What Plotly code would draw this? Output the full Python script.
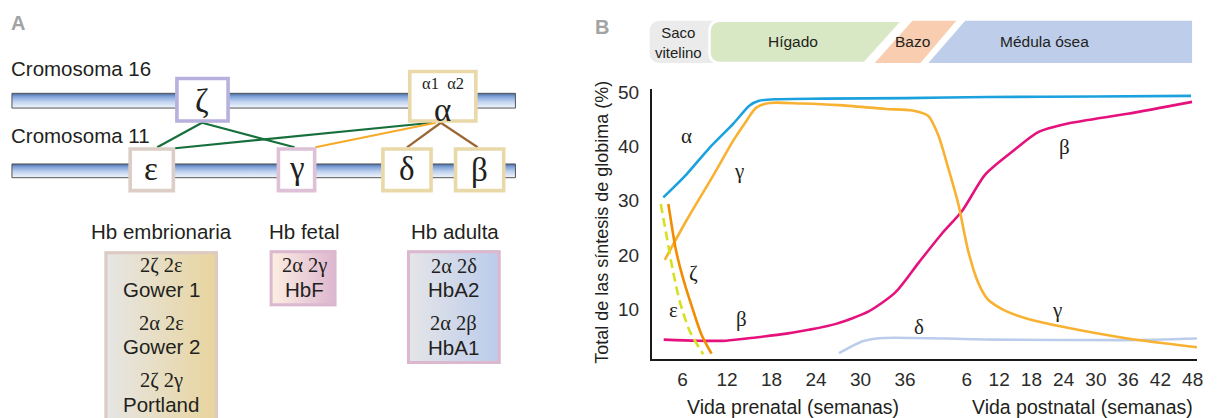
import plotly.graph_objects as go

W, H = 1217, 418

# ---------------- DATA (panel B) ----------------
# Age in weeks since conception: prenatal week w -> w ; postnatal week p -> 40 + p
alpha_t = [3.4, 6.5, 9.6, 12.85, 15.0, 16.3, 18.6, 25, 36, 50, 70, 87.7]
alpha_y = [30.6, 34.8, 39.7, 44.2, 47.5, 48.4, 48.7, 48.8, 48.9, 49.1, 49.2, 49.3]

gamma_t = [3.6, 6.5, 10.2, 12.85, 14.6, 15.9, 17.7, 22, 27.1, 33.4, 37.0, 39.15,
           40.7, 42.5, 44.4, 46.2, 48.1, 49.9, 51.2, 53.6, 57.4, 63.6, 75.9, 88.8]
gamma_y = [19.1, 26.3, 34.8, 41.1, 44.7, 47.1, 48.0, 47.9, 47.6, 46.9, 46.6, 45.6,
           42.0, 36.1, 29.4, 20.9, 14.9, 11.8, 10.8, 9.5, 8.2, 6.8, 4.6, 3.0]

beta_t = [3.45, 7.9, 11.9, 15.9, 20.0, 23.0, 26.7, 31.1, 34.7, 37.8, 41.4, 45.1,
          49.4, 54.4, 59.2, 64.8, 75.9, 87.9]
beta_y = [4.4, 4.2, 4.2, 4.8, 5.5, 6.2, 7.3, 9.6, 13.1, 18.5, 24.0, 28.1,
          34.8, 39.0, 42.6, 44.2, 46.0, 48.2]

delta_t = [27.1, 30.3, 33.0, 51.2, 75.9, 88.8]
delta_y = [1.9, 4.1, 4.7, 4.4, 4.3, 4.6]

zeta_t = [4.08, 5.1, 6.1, 7.34, 8.55, 9.9]
zeta_y = [29.4, 20.9, 15.5, 10.1, 5.3, 1.8]

eps_t = [3.05, 3.85, 4.66, 5.64, 6.98, 8.78]
eps_y = [29.4, 23.4, 17.3, 11.3, 5.9, 1.7]

curve_labels = ["α", "γ", "ζ", "ε", "β", "δ", "γ", "β", "α"]
label_t = [6.54, 13.65, 7.48, 4.79, 13.92, 37.87, 62.7, 64.2, 62.35]
label_y = [42.0, 35.4, 16.7, 9.9, 8.2, 6.8, 9.9, 39.9, 52.0]

prenatal_ticks = [6, 12, 18, 24, 30, 36]
postnatal_ticks = [6, 12, 18, 24, 30, 36, 42, 48]
y_ticks = [10, 20, 30, 40, 50]

organ_labels = ["Saco<br>vitelino", "Hígado", "Bazo", "Médula ósea"]

# ---------------- TEXT (panel A) ----------------
chrom_labels = ["Cromosoma 16", "Cromosoma 11"]
gene_labels = ["ζ", "α", "ε", "γ", "δ", "β"]
hb_groups = ["Hb embrionaria", "Hb fetal", "Hb adulta"]
embryonic = [("2ζ 2ε", "Gower 1"), ("2α 2ε", "Gower 2"), ("2ζ 2γ", "Portland")]
fetal = [("2α 2γ", "HbF")]
adult = [("2α 2δ", "HbA2"), ("2α 2β", "HbA1")]

# ---------------- STYLE ----------------
SANS = "Liberation Sans, Arial, sans-serif"
SERIF = "Liberation Serif, Times New Roman, serif"
TXT = "#231f20"
R = 0.725  # postnatal compression of the time axis


def X(t):
    return t if t <= 40 else 40 + (t - 40) * R


fig = go.Figure()


def curve(t, y, color, dash="solid", width=2.6):
    fig.add_trace(go.Scatter(
        x=[X(v) for v in t], y=y, mode="lines", xaxis="x", yaxis="y",
        line=dict(color=color, width=width, dash=dash, shape="spline", smoothing=0.7),
        hoverinfo="skip", showlegend=False))


curve(delta_t, delta_y, "#bccdec")
curve(beta_t, beta_y, "#e5127d")
curve(gamma_t, gamma_y, "#f9b131")
curve(alpha_t, alpha_y, "#1ba1dd")
curve(eps_t, eps_y, "#d6e01f", dash="9px,5px")
curve(zeta_t, zeta_y, "#f28c00")

annotations = []
for s, t, y in zip(curve_labels, label_t, label_y):
    annotations.append(dict(x=X(t), y=y, xref="x", yref="y", text=s, showarrow=False,
                            font=dict(family=SERIF, size=21, color=TXT)))

# -------- overlay pixel axes (x2/y2) for the schematic parts --------
def grad(x0, y0, x1, y1, scale, orient):
    fig.add_trace(go.Scatter(
        x=[x0, x1, x1, x0, x0], y=[y0, y0, y1, y1, y0], xaxis="x2", yaxis="y2",
        mode="lines", line=dict(width=0), fill="toself",
        fillgradient=dict(type=orient, colorscale=scale),
        hoverinfo="skip", showlegend=False))


shapes = []


def rect(x0, y0, x1, y1, line, width, fill=None):
    shapes.append(dict(type="rect", xref="x2", yref="y2", x0=x0, y0=y0, x1=x1, y1=y1,
                       line=dict(color=line, width=width),
                       fillcolor=fill if fill else "rgba(0,0,0,0)", layer="above"))


def seg(x0, y0, x1, y1, color, width=2.2):
    shapes.append(dict(type="line", xref="x2", yref="y2", x0=x0, y0=y0, x1=x1, y1=y1,
                       line=dict(color=color, width=width), layer="above"))


def txt(x, y, s, size, family=SANS, color=TXT, angle=0, bold=False, xanchor="center"):
    annotations.append(dict(x=x, y=y, xref="x2", yref="y2", text=(f"<b>{s}</b>" if bold else s),
                            showarrow=False, textangle=angle, xanchor=xanchor,
                            font=dict(family=family, size=size, color=color)))


# chromosome bars
bar_scale = [[0, "#f2f6fc"], [0.45, "#bed1ee"], [0.8, "#7c9fd6"], [1, "#46679f"]]
for (y0, y1) in [(87, 102), (159, 173)]:
    grad(12, y0, 518, y1, bar_scale, "vertical")
    rect(12, y0, 518, y1, "#555555", 1)

# connecting lines
seg(203, 117, 158, 142, "#17703c")
seg(203, 117, 296, 142, "#17703c")
seg(176, 143, 434, 117, "#17703c")
seg(317, 142, 438, 117, "#f7aa28")
seg(443, 117, 409, 142, "#9a6634")
seg(443, 117, 480, 142, "#9a6634")

# gene boxes
gene_boxes = [(176, 70, 231, 117, "#b8b0dd"), (410, 63, 480, 117, "#e9d9a9"),
              (129, 142, 176, 188, "#dccec6"), (278, 142, 318, 188, "#dec0d7"),
              (383, 142, 435, 188, "#e9d9a9"), (456, 142, 508, 188, "#e9d9a9")]
for (x0, y0, x1, y1, c) in gene_boxes:
    rect(x0 + 1.8, y0 + 1.8, x1 - 1.8, y1 - 1.8, c, 3.6, "#ffffff")

gene_pos = [(203, 95), (445, 104), (152, 164), (298, 163), (409, 164), (482, 165)]
for s, (x, y) in zip(gene_labels, gene_pos):
    txt(x, y, s, 33, SERIF)
txt(445, 77, "α1  α2", 16.5, SERIF)

txt(9, 62, chrom_labels[0], 20.5, SANS, xanchor="left")
txt(9, 130, chrom_labels[1], 20.5, SANS, xanchor="left")

txt(18, 15, "A", 20, SANS, "#a3a3a3", bold=True)
txt(605, 19, "B", 20, SANS, "#a3a3a3", bold=True)

# hemoglobin boxes
grad(105, 248, 219, 430, [[0, "#e6e6e6"], [1, "#e8d49c"]], "horizontal")
rect(106.5, 249.5, 217.5, 430, "#dccac3", 3)
grad(271, 247, 338, 304, [[0, "#fdf0e2"], [1, "#dcb5cf"]], "horizontal")
rect(272.5, 248.5, 336.5, 302.5, "#dbb8cf", 3)
grad(409, 247, 503, 363, [[0, "#e6e6e8"], [1, "#bbcbeb"]], "horizontal")
rect(410.5, 248.5, 501.5, 361.5, "#dcb8cf", 3)

for s, x in zip(hb_groups, [162, 306, 457]):
    txt(x, 228, s, 20.5, SANS)
for i, (f, n) in enumerate(embryonic):
    txt(162, 263 + 58.5 * i, f, 20.5, SERIF)
    txt(162, 287 + 58.5 * i, n, 20.5, SANS)
for f, n in fetal:
    txt(306, 263, f, 20.5, SERIF)
    txt(306, 287, n, 20.5, SANS)
for i, (f, n) in enumerate(adult):
    txt(456, 263 + 59 * i, f, 20.5, SERIF)
    txt(456, 287 + 59 * i, n, 20.5, SANS)

# organ band (panel B top)
def path(d, fill, line="rgba(0,0,0,0)", lw=0):
    shapes.append(dict(type="path", xref="x2", yref="y2", path=d, fillcolor=fill,
                       line=dict(color=line, width=lw), layer="above"))


path("M 664,13 L 722,13 L 722,56 L 664,56 Q 653,56 653,45 L 653,24 Q 653,13 664,13 Z", "#ebebeb")
path("M 724,13 L 907,13 L 869,56 L 724,56 Q 713,56 713,45 L 713,24 Q 713,13 724,13 Z",
     "#d8e8c5", "#ffffff", 2.5)
path("M 917,13 L 961,13 L 925,56 L 879,56 Z", "#f9cdb0")
path("M 970,13 L 1198,13 L 1198,56 L 933,56 Z", "#bdcdea")

txt(682, 35, organ_labels[0], 15, SANS)
txt(797, 34, organ_labels[1], 15.5, SANS)
txt(917, 34, organ_labels[2], 15.5, SANS)
txt(1050, 34, organ_labels[3], 15.5, SANS)

# axis titles
txt(605, 219, "Total de las síntesis de globima (%)", 18, SANS, angle=-90)
txt(797, 407, "Vida prenatal (semanas)", 19.5, SANS)
txt(1088, 407, "Vida postnatal (semanas)", 19.5, SANS)

tickvals = [X(w) for w in prenatal_ticks] + [X(40 + p) for p in postnatal_ticks]
ticktext = [str(w) for w in prenatal_ticks] + [str(p) for p in postnatal_ticks]

fig.update_layout(
    width=W, height=H, margin=dict(l=0, r=0, t=0, b=0),
    paper_bgcolor="white", plot_bgcolor="rgba(0,0,0,0)",
    xaxis=dict(domain=[655 / W, 1203 / W], range=[1.84, 75.4], anchor="y",
               showline=True, linecolor="#1a1a1a", linewidth=1.6, showgrid=False,
               zeroline=False, tickvals=tickvals, ticktext=ticktext,
               ticks="outside", ticklen=2, tickcolor="rgba(0,0,0,0)",
               tickfont=dict(family=SANS, size=19, color="#2b2b2b")),
    yaxis=dict(domain=[1 - 358 / H, 1 - 83 / H], range=[0.8, 50.5], anchor="x",
               showline=True, linecolor="#1a1a1a", linewidth=1.6, showgrid=False,
               zeroline=False, tickvals=y_ticks, ticks="outside", ticklen=7,
               tickcolor="rgba(0,0,0,0)",
               tickfont=dict(family=SANS, size=19, color="#2b2b2b")),
    xaxis2=dict(domain=[0, 1], range=[0, W], anchor="y2", visible=False, fixedrange=True),
    yaxis2=dict(domain=[0, 1], range=[H, 0], anchor="x2", visible=False, fixedrange=True),
    shapes=shapes, annotations=annotations, showlegend=False,
)

fig.write_html("out.html", config={"displayModeBar": False},
               post_script="document.body.style.margin='0px';document.body.style.padding='0px';")
